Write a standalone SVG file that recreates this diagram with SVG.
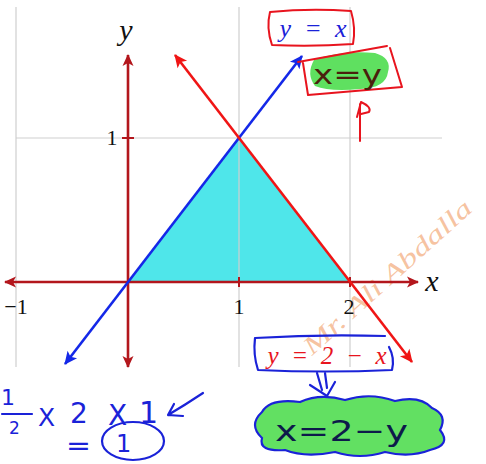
<svg xmlns="http://www.w3.org/2000/svg" width="486" height="464" viewBox="0 0 486 464">
<defs>
<style>
.grid{stroke:#cfcfcf;stroke-width:1.2;fill:none}
.axis{stroke:#b3161c;stroke-width:2.6;fill:none}
.tick{stroke:#b3161c;stroke-width:2;fill:none}
.num{font-family:"Liberation Serif","DejaVu Serif",serif;font-size:22px;fill:#111;text-anchor:middle}
.var{font-family:"Liberation Serif","DejaVu Serif",serif;font-style:italic;fill:#111;text-anchor:middle}
.redln{stroke:#f01515;stroke-width:2.6;fill:none}
.blueln{stroke:#1428e8;stroke-width:2.6;fill:none}
.ink-red{stroke:#e8141e;stroke-width:2;fill:none;stroke-linecap:round;stroke-linejoin:round}
.ink-blue{stroke:#1a22d8;stroke-width:2.2;fill:none;stroke-linecap:round;stroke-linejoin:round}
.hand{font-family:"DejaVu Sans","Noto Sans",sans-serif}
</style>
<marker id="ahAxis" viewBox="-14 -7 16 14" refX="0" refY="0" markerWidth="16" markerHeight="14" markerUnits="userSpaceOnUse" orient="auto-start-reverse">
<path d="M1,0 L-11,-5.5 L-8,0 L-11,5.5 Z" fill="#b3161c"/>
</marker>
<marker id="ahRed" viewBox="-14 -7 16 14" refX="0" refY="0" markerWidth="16" markerHeight="14" markerUnits="userSpaceOnUse" orient="auto-start-reverse">
<path d="M1,0 L-12,-6 L-9,0 L-12,6 Z" fill="#f01515"/>
</marker>
<marker id="ahBlue" viewBox="-14 -7 16 14" refX="0" refY="0" markerWidth="16" markerHeight="14" markerUnits="userSpaceOnUse" orient="auto-start-reverse">
<path d="M1,0 L-12,-6 L-9,0 L-12,6 Z" fill="#1428e8"/>
</marker>
</defs>
<rect width="486" height="464" fill="#fff"/>

<g id="grid">
<path class="grid" d="M16,7 V367 M239,7 V367 M350,7 V367 M16,138 H442"/>
</g>

<g id="region">
<polygon points="128,282 239,138 350,282" fill="#4fe6ea"/>
<path class="grid" d="M239,138 V282"/>
</g>

<g id="watermark">
<text x="312" y="356" transform="rotate(-42 312 356)" font-family="Liberation Serif, DejaVu Serif, serif" font-style="italic" font-size="25" fill="#f2a877" fill-opacity="0.7" textLength="218" lengthAdjust="spacingAndGlyphs">Mr. Ali Abdalla</text>
</g>

<g id="axes">
<path class="axis" d="M5,282 H418" marker-start="url(#ahAxis)" marker-end="url(#ahAxis)"/>
<path class="axis" d="M128,367 V55" marker-start="url(#ahAxis)" marker-end="url(#ahAxis)"/>
<path class="tick" d="M239,277 V287 M350,277 V287 M122,138 H134"/>
<text class="var" x="126" y="40" font-size="30">y</text>
<text class="var" x="432" y="291" font-size="30">x</text>
<text class="num" x="112" y="145">1</text>
<text class="num" x="16" y="314">−1</text>
<text class="num" x="239" y="314">1</text>
<text class="num" x="349" y="314">2</text>
</g>

<g id="connectors">
<path class="blueln" d="M65,364 L302,56" marker-start="url(#ahBlue)" marker-end="url(#ahBlue)"/>
<path class="redln" d="M175,55 L412,362" marker-start="url(#ahRed)" marker-end="url(#ahRed)"/>
</g>

<g id="label-yx">
<path class="ink-red" d="M270,12 Q310,8 351,11 Q356,28 353,44 Q312,47 272,45 Q266,28 270,12 Z"/>
<text class="var" x="313" y="37" font-size="26" style="fill:#1a22d8" textLength="67" lengthAdjust="spacing">y = x</text>
</g>

<g id="note-xy">
<path d="M314,60 Q340,50 375,53 Q392,58 388,72 Q386,88 360,89 Q330,92 315,86 Q306,74 314,60 Z" fill="#5fe060"/>
<path class="ink-red" d="M298,62 L387,46 M390,48 L402,87 L308,95 L303,63"/>
<text class="hand" x="313" y="84" font-size="26" fill="#4a200c" textLength="69" lengthAdjust="spacingAndGlyphs">x=y</text>
<path class="ink-red" d="M360,141 L360,104 M357,117 L361,102 Q372,107 369,112 L361,114"/>
</g>

<g id="label-y2x">
<path class="ink-blue" d="M255,338 Q320,334 385,336 M389,347 Q395,358 392,370 Q325,373 258,370 Q253,355 255,338"/>
<text class="var" x="327" y="364" font-size="25" style="fill:#e8141e" textLength="119" lengthAdjust="spacing">y = 2 − x</text>
<path class="ink-blue" d="M317,373 L322,390 M325,373 L327,388 M310,385 L327,396 L335,382"/>
</g>

<g id="note-x2y">
<path d="M262,412 Q270,398 300,402 Q320,393 345,400 Q370,392 395,401 Q420,395 432,408 Q448,415 440,430 Q452,445 430,450 Q410,458 385,452 Q360,460 335,452 Q305,458 285,450 Q258,452 262,438 Q248,425 262,412 Z" fill="#62e062" stroke="#1a22d8" stroke-width="2.2"/>
<text class="hand" x="275" y="441" font-size="29" fill="#0d1a4a" textLength="133" lengthAdjust="spacingAndGlyphs">x=2−y</text>
</g>

<g id="note-area" fill="#1a22d8">
<text class="hand" x="1" y="405" font-size="22">1</text>
<path class="ink-blue" d="M2,414 L32,414"/>
<text class="hand" x="9" y="434" font-size="17">2</text>
<text class="hand" x="38" y="426" font-size="25">X</text>
<text class="hand" x="70" y="423" font-size="28">2</text>
<text class="hand" x="108" y="425" font-size="28">X</text>
<text class="hand" x="139" y="423" font-size="30">1</text>
<path class="ink-blue" d="M203,393 Q185,405 168,415 M174,404 L168,415 L183,416"/>
<text class="hand" x="66" y="455" font-size="26" textLength="25" lengthAdjust="spacingAndGlyphs">=</text>
<ellipse class="ink-blue" cx="133" cy="441" rx="31" ry="19"/>
<text class="hand" x="116" y="452" font-size="24">1</text>
</g>
</svg>
